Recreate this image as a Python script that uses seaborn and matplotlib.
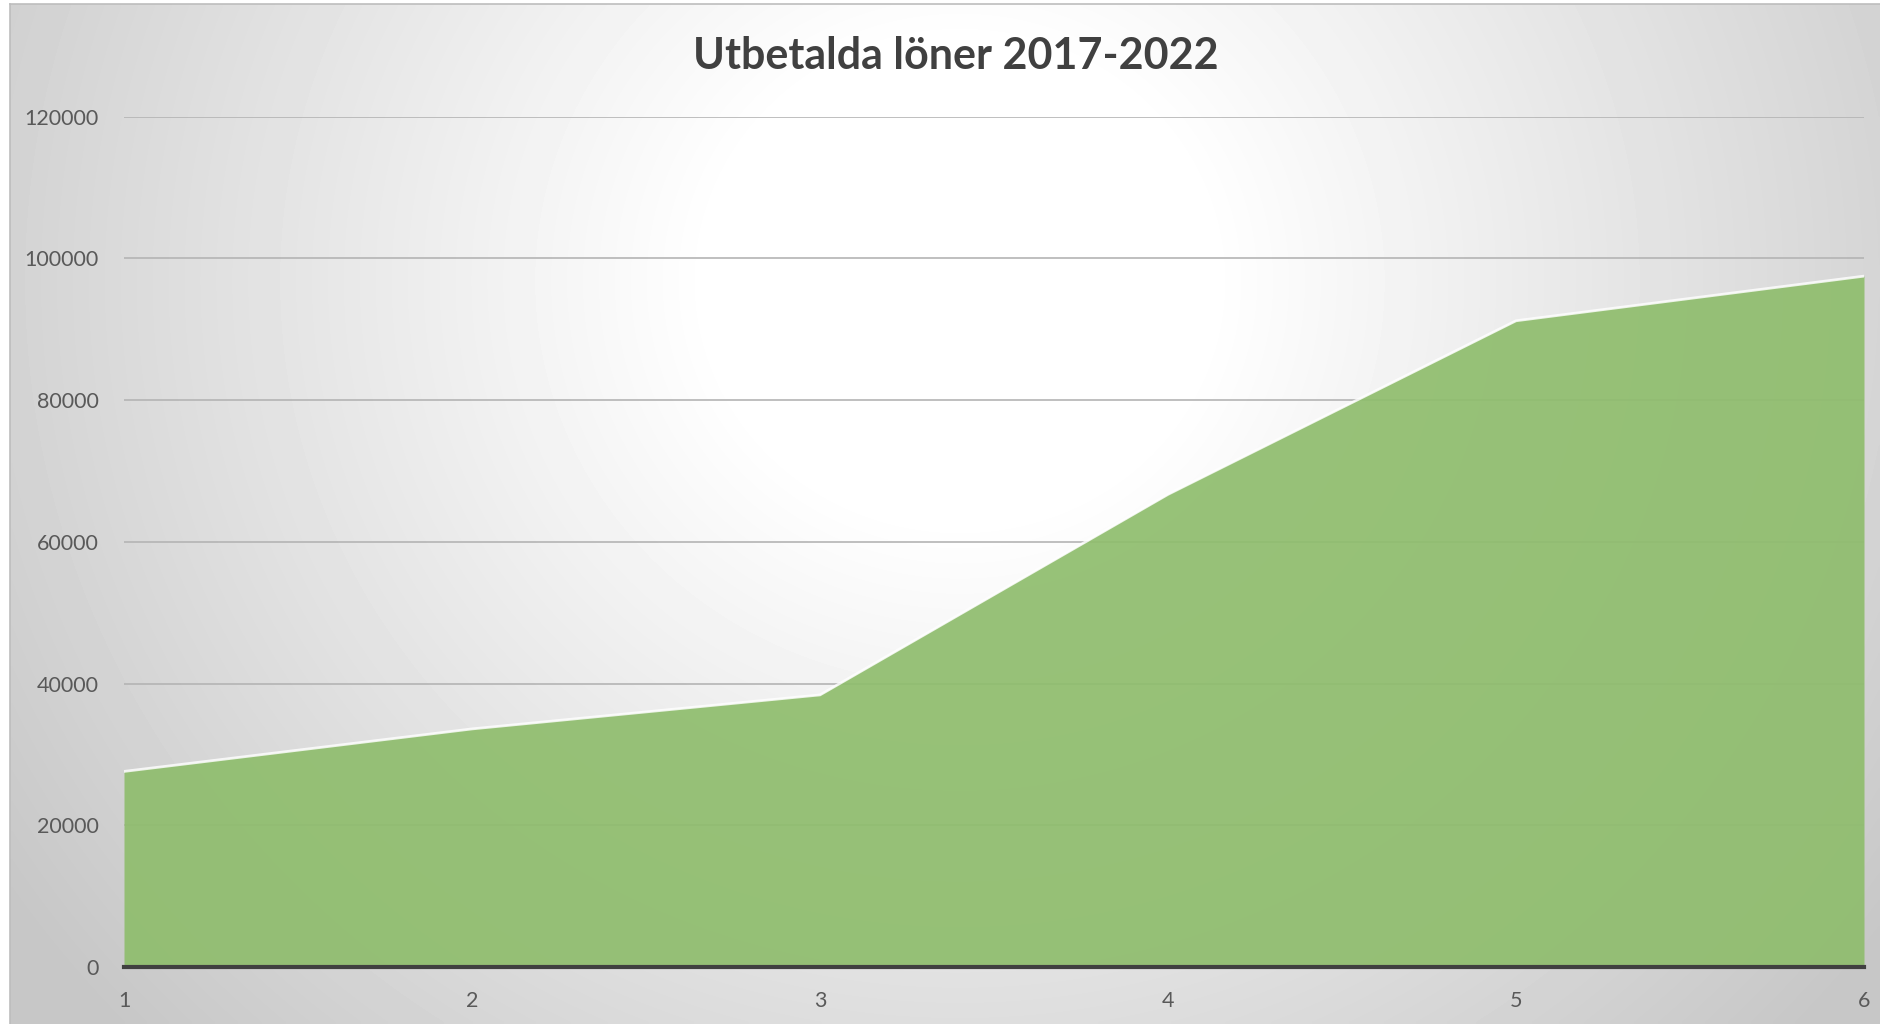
import numpy as np
import pandas as pd
import matplotlib
matplotlib.use("Agg")
import matplotlib.pyplot as plt
import seaborn as sns

# data
years = [1, 2, 3, 4, 5, 6]
loner = [27600, 33600, 38400, 66700, 91200, 97500]
y_ticks = [0, 20000, 40000, 60000, 80000, 100000, 120000]
title = "Utbetalda löner 2017-2022"

df = pd.DataFrame({"year": years, "loner": loner})

sns.set_style("white")
plt.rcParams["font.family"] = ["Lato", "DejaVu Sans"]

W, H = 1881, 1024
fig = plt.figure(figsize=(W / 100, H / 100), dpi=100)
fig.patch.set_facecolor("white")

# radial grey gradient behind the chart (Excel style chart area)
bg = fig.add_axes([10 / W, 0, 1 - 10 / W, 1 - 4 / H], zorder=0)
gx, gy = np.meshgrid(np.linspace(10, W, 400), np.linspace(4, H, 220))
r = np.hypot(gx - 960, (gy - 280) * 1.05)
t = np.clip((r - 250) / 900, 0, 1)
shade = 1.0 - 0.22 * t
bg.imshow(shade, cmap="gray", vmin=0, vmax=1, aspect="auto",
          extent=[0, 1, 0, 1], origin="upper", interpolation="bilinear")
bg.set_xlim(0, 1)
bg.set_ylim(0, 1)
bg.set_xticks([])
bg.set_yticks([])
for s in bg.spines.values():
    s.set_color("#bdbdbd")
    s.set_linewidth(1.2)
bg.spines["right"].set_visible(False)
bg.spines["bottom"].set_visible(False)

ax = fig.add_axes([124 / W, 1 - 967 / H, (1864 - 124) / W, (967 - 116.7) / H], zorder=1)
ax.patch.set_alpha(0)

ax.fill_between(df["year"], df["loner"], 0, color="#8fbd6d", alpha=0.92,
                linewidth=0, zorder=2)
sns.lineplot(data=df, x="year", y="loner", ax=ax, color="white", lw=2,
             alpha=0.8, zorder=3)

ax.set_xlim(1, 6)
ax.set_ylim(0, 120000)
ax.set_yticks(y_ticks)
ax.set_yticklabels([str(v) for v in y_ticks])
ax.set_xticks(years)
ax.set_xticklabels([str(v) for v in years])
ax.grid(axis="y", color="#b4b4b4", lw=1.2, zorder=1)
ax.set_axisbelow(True)
ax.tick_params(axis="both", length=0, labelsize=15.5, colors="#595959")
ax.tick_params(axis="y", pad=18)
ax.tick_params(axis="x", pad=17)
for s in ["top", "right", "left"]:
    ax.spines[s].set_visible(False)
ax.spines["bottom"].set_color("#404040")
ax.spines["bottom"].set_linewidth(3)
ax.spines["bottom"].set_zorder(4)
ax.set_xlabel("")
ax.set_ylabel("")

fig.text(956 / W, 1 - 56 / H, title, ha="center", va="center",
         fontsize=31, fontweight="bold", color="#404040")

fig.savefig("out.png", dpi=100)
